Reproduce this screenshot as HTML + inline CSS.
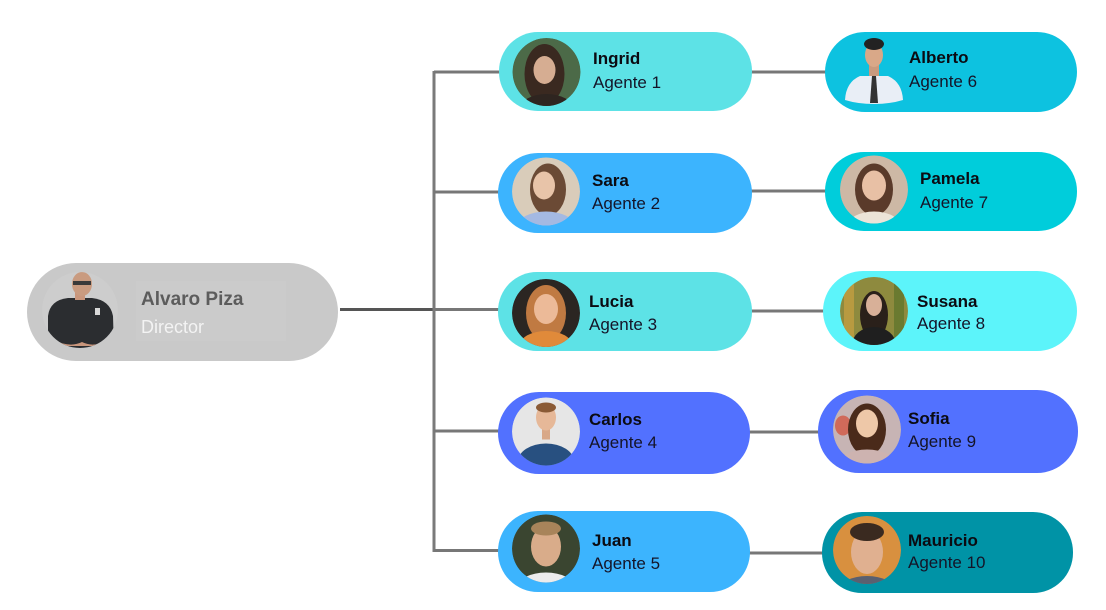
<!DOCTYPE html>
<html>
<head>
<meta charset="utf-8">
<style>
  html,body{margin:0;padding:0;background:#ffffff;}
  body{width:1106px;height:610px;overflow:hidden;}
  svg{display:block;}
  .nm{font-family:"Liberation Sans",sans-serif;font-weight:bold;font-size:17px;fill:#0b0b12;}
  .ag{font-family:"Liberation Sans",sans-serif;font-size:17px;fill:#141428;}
</style>
</head>
<body>
<svg width="1106" height="610" viewBox="0 0 1106 610" xmlns="http://www.w3.org/2000/svg">
  <defs>
    <clipPath id="cc"><circle cx="0" cy="0" r="34"/></clipPath>
    <clipPath id="cd"><circle cx="0" cy="0" r="38"/></clipPath>
  </defs>

  <!-- connectors -->
  <g fill="none" stroke-linecap="butt">
    <line x1="340" y1="309.5" x2="434" y2="309.5" stroke="#555555" stroke-width="3"/>
    <line x1="434" y1="309.5" x2="499" y2="309.5" stroke="#777777" stroke-width="3"/>
    <line x1="434" y1="71" x2="434" y2="552" stroke="#7a7a7a" stroke-width="3"/>
    <line x1="434" y1="72" x2="500" y2="72" stroke="#777777" stroke-width="3"/>
    <line x1="434" y1="192" x2="499" y2="192" stroke="#777777" stroke-width="3"/>
    <line x1="434" y1="431" x2="499" y2="431" stroke="#777777" stroke-width="3"/>
    <line x1="434" y1="550.5" x2="499" y2="550.5" stroke="#777777" stroke-width="3"/>
    <line x1="751" y1="72" x2="826" y2="72" stroke="#777777" stroke-width="3"/>
    <line x1="751" y1="191" x2="826" y2="191" stroke="#777777" stroke-width="3"/>
    <line x1="751" y1="311" x2="824" y2="311" stroke="#777777" stroke-width="3"/>
    <line x1="749" y1="432" x2="819" y2="432" stroke="#777777" stroke-width="3"/>
    <line x1="749" y1="553" x2="823" y2="553" stroke="#777777" stroke-width="3"/>
  </g>

  <!-- Director -->
  <rect x="27" y="263" width="311" height="98" rx="49" fill="#c9c9c9"/>
  <rect x="136" y="281" width="150" height="60" fill="#cbcbcb"/>
  <g transform="translate(80,310)">
    <g clip-path="url(#cd)">
      <circle r="38" fill="#cdcdcd"/>
      <path d="M-32 40 L-32 6 Q-30 -10 -12 -12 L12 -12 Q30 -10 33 6 L34 40 Z" fill="#2b2d30"/>
      <rect x="-5" y="-18" width="10" height="8" fill="#c9967c"/>
      <ellipse cx="2" cy="-26" rx="10" ry="12" fill="#c99b80"/>
      <rect x="-7" y="-29" width="18" height="4" fill="#3a3a3a"/>
      <path d="M-26 30 Q-10 38 2 32 Q14 38 28 30 L28 36 L-26 36 Z" fill="#c9967c"/>
      <rect x="15" y="-2" width="5" height="7" fill="#d8d8d8"/>
    </g>
  </g>
  <text x="141" y="305" font-family="Liberation Sans, sans-serif" font-weight="bold" font-size="19" fill="#5c5c5c">Alvaro Piza</text>
  <text x="141" y="333" font-family="Liberation Sans, sans-serif" font-size="18" fill="#f3f3f3">Director</text>

  <!-- Column 1 -->
  <!-- Ingrid -->
  <rect x="499" y="32" width="253" height="79" rx="39" fill="#5de2e6"/>
  <g transform="translate(546.5,72)">
    <g clip-path="url(#cc)">
      <circle r="34" fill="#4c6a48"/>
      <ellipse cx="-2" cy="2" rx="20" ry="30" fill="#3a2920"/>
      <ellipse cx="0" cy="36" rx="26" ry="14" fill="#2e2520"/>
      <ellipse cx="-2" cy="-2" rx="11" ry="14" fill="#d6ad92"/>
    </g>
  </g>
  <text class="nm" x="593" y="64">Ingrid</text>
  <text class="ag" x="593" y="88">Agente 1</text>

  <!-- Sara -->
  <rect x="498" y="153" width="254" height="80" rx="40" fill="#3cb4fe"/>
  <g transform="translate(546,191.5)">
    <g clip-path="url(#cc)">
      <circle r="34" fill="#d9ccba"/>
      <ellipse cx="2" cy="-2" rx="18" ry="26" fill="#6b4a35"/>
      <ellipse cx="0" cy="34" rx="28" ry="14" fill="#a4b9e2"/>
      <ellipse cx="-2" cy="-6" rx="11" ry="14" fill="#e8c4a9"/>
    </g>
  </g>
  <text class="nm" x="592" y="186">Sara</text>
  <text class="ag" x="592" y="209">Agente 2</text>

  <!-- Lucia -->
  <rect x="498" y="272" width="254" height="79" rx="39" fill="#5de2e6"/>
  <g transform="translate(546,313)">
    <g clip-path="url(#cc)">
      <circle r="34" fill="#2b2622"/>
      <ellipse cx="0" cy="0" rx="20" ry="28" fill="#c07a42"/>
      <ellipse cx="0" cy="32" rx="26" ry="14" fill="#e08a3a"/>
      <ellipse cx="0" cy="-4" rx="12" ry="15" fill="#ecba98"/>
    </g>
  </g>
  <text class="nm" x="589" y="307">Lucia</text>
  <text class="ag" x="589" y="330">Agente 3</text>

  <!-- Carlos -->
  <rect x="498" y="392" width="252" height="82" rx="41" fill="#5271ff"/>
  <g transform="translate(546,431.5)">
    <g clip-path="url(#cc)">
      <circle r="34" fill="#e6e6e6"/>
      <ellipse cx="0" cy="30" rx="28" ry="18" fill="#285080"/>
      <rect x="-4" y="-4" width="8" height="12" fill="#d8a888"/>
      <ellipse cx="0" cy="-14" rx="10" ry="13" fill="#e6b898"/>
      <ellipse cx="0" cy="-24" rx="10" ry="5" fill="#8a5a35"/>
    </g>
  </g>
  <text class="nm" x="589" y="425">Carlos</text>
  <text class="ag" x="589" y="448">Agente 4</text>

  <!-- Juan -->
  <rect x="498" y="511" width="252" height="81" rx="40" fill="#3cb4fe"/>
  <g transform="translate(546,548.5)">
    <g clip-path="url(#cc)">
      <circle r="34" fill="#3a4530"/>
      <ellipse cx="0" cy="38" rx="28" ry="14" fill="#ececec"/>
      <ellipse cx="0" cy="-2" rx="15" ry="20" fill="#d9ac8a"/>
      <ellipse cx="0" cy="-20" rx="15" ry="7" fill="#a8845a"/>
    </g>
  </g>
  <text class="nm" x="592" y="546">Juan</text>
  <text class="ag" x="592" y="569">Agente 5</text>

  <!-- Column 2 -->
  <!-- Alberto -->
  <rect x="825" y="32" width="252" height="80" rx="40" fill="#0dc2e0"/>
  <g>
    <path d="M845 100 Q846 82 860 76 L888 76 Q902 82 903 100 Q890 104 874 104 Q858 104 845 100 Z" fill="#e9eef6"/>
    <path d="M872 76 L876 76 L878 103 L870 103 Z" fill="#333333"/>
    <rect x="869" y="64" width="10" height="12" fill="#c99a7e"/>
    <ellipse cx="874" cy="55" rx="9" ry="12" fill="#d9a888"/>
    <ellipse cx="874" cy="44" rx="10" ry="6" fill="#222222"/>
  </g>
  <text class="nm" x="909" y="63">Alberto</text>
  <text class="ag" x="909" y="87">Agente 6</text>

  <!-- Pamela -->
  <rect x="825" y="152" width="252" height="79" rx="39" fill="#00cddb"/>
  <g transform="translate(874,189.5)">
    <g clip-path="url(#cc)">
      <circle r="34" fill="#cdb8a5"/>
      <ellipse cx="0" cy="0" rx="19" ry="26" fill="#5a3a2a"/>
      <ellipse cx="0" cy="36" rx="26" ry="14" fill="#ece4d8"/>
      <ellipse cx="0" cy="-4" rx="12" ry="15" fill="#e8c0a5"/>
    </g>
  </g>
  <text class="nm" x="920" y="184">Pamela</text>
  <text class="ag" x="920" y="208">Agente 7</text>

  <!-- Susana -->
  <rect x="823" y="271" width="254" height="80" rx="40" fill="#5cf4fa"/>
  <g transform="translate(874,311)">
    <g clip-path="url(#cc)">
      <circle r="34" fill="#8e8a3e"/>
      <rect x="-30" y="-34" width="10" height="68" fill="#b89a40"/>
      <rect x="20" y="-34" width="10" height="68" fill="#6a7a30"/>
      <ellipse cx="0" cy="4" rx="14" ry="24" fill="#2a201a"/>
      <ellipse cx="0" cy="34" rx="22" ry="18" fill="#1f1f1f"/>
      <ellipse cx="0" cy="-6" rx="8" ry="11" fill="#d8b098"/>
    </g>
  </g>
  <text class="nm" x="917" y="307">Susana</text>
  <text class="ag" x="917" y="329">Agente 8</text>

  <!-- Sofia -->
  <rect x="818" y="390" width="260" height="83" rx="41" fill="#5271ff"/>
  <g transform="translate(867,429.5)">
    <g clip-path="url(#cc)">
      <circle r="34" fill="#c7b4b4"/>
      <ellipse cx="-24" cy="-4" rx="8" ry="10" fill="#d06a5a"/>
      <ellipse cx="0" cy="0" rx="19" ry="26" fill="#4a2a1a"/>
      <ellipse cx="0" cy="34" rx="28" ry="14" fill="#cdb3b0"/>
      <ellipse cx="0" cy="-6" rx="11" ry="14" fill="#eec8a8"/>
    </g>
  </g>
  <text class="nm" x="908" y="424">Sofia</text>
  <text class="ag" x="908" y="447">Agente 9</text>

  <!-- Mauricio -->
  <rect x="822" y="512" width="251" height="81" rx="40" fill="#0093a6"/>
  <g transform="translate(867,550)">
    <g clip-path="url(#cc)">
      <circle r="34" fill="#d8903f"/>
      <ellipse cx="0" cy="40" rx="28" ry="14" fill="#5a6070"/>
      <ellipse cx="0" cy="2" rx="16" ry="22" fill="#e0b090"/>
      <ellipse cx="0" cy="-18" rx="17" ry="9" fill="#3a2a20"/>
    </g>
  </g>
  <text class="nm" x="908" y="546">Mauricio</text>
  <text class="ag" x="908" y="568">Agente 10</text>
</svg>
</body>
</html>
